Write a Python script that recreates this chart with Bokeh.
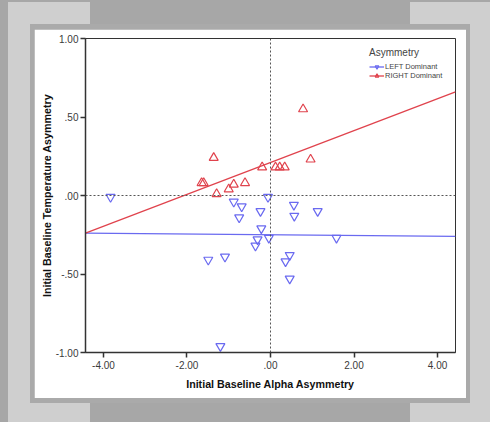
from bokeh.plotting import figure
from bokeh.models import Range1d, Span, Legend, LegendItem, FixedTicker
from bokeh.embed import file_html
from bokeh.resources import INLINE

# ---- data ----
left_x = [-3.83, -0.88, -0.69, -0.24, -0.06, -0.75, -0.22, -0.31, -0.36, -0.04,
          -1.49, -1.09, 0.56, 1.13, 0.57, 1.58, 0.46, 0.36, 0.46, -1.20]
left_y = [-0.01, -0.04, -0.07, -0.10, -0.01, -0.14, -0.21, -0.28, -0.32, -0.27,
          -0.41, -0.39, -0.06, -0.10, -0.13, -0.27, -0.38, -0.42, -0.53, -0.96]
right_x = [0.78, -1.36, 0.96, -0.20, 0.12, 0.22, 0.34, -1.65, -1.60, -1.29,
           -1.00, -0.88, -0.61]
right_y = [0.55, 0.24, 0.23, 0.18, 0.18, 0.18, 0.18, 0.08, 0.08, 0.01,
           0.04, 0.07, 0.08]

# fit lines: intercept, slope
left_fit = (-0.25, -0.0023)
right_fit = (0.21, 0.1016)

x_limits = [-4.43, 4.43]
y_limits = [-1.0, 1.0]
x_ticks = [-4, -2, 0, 2, 4]
x_tick_labels = ["-4.00", "-2.00", ".00", "2.00", "4.00"]
y_ticks = [-1, -0.5, 0, 0.5, 1]
y_tick_labels = ["-1.00", "-.50", ".00", ".50", "1.00"]

RED = "#e0434d"
BLUE = "#6a6af0"
FONT = "Liberation Sans"

p = figure(width=432, height=369, output_backend="svg", toolbar_location=None,
           x_range=Range1d(*x_limits), y_range=Range1d(*y_limits),
           frame_width=370, frame_height=314,
           min_border_left=51, min_border_right=11, min_border_top=9,
           min_border_bottom=46)
p.margin = (29, 0, 0, 34)
p.border_fill_color = "white"
p.background_fill_color = "white"
p.outline_line_color = "#333333"
p.outline_line_width = 1
p.grid.visible = False

# reference lines
p.add_layout(Span(location=0, dimension="height", line_color="#555555",
                  line_dash="2 2", line_width=1))
p.add_layout(Span(location=0, dimension="width", line_color="#555555",
                  line_dash="2 2", line_width=1))

# fit lines
lfx = list(x_limits)
lfy = [left_fit[0] + left_fit[1] * v for v in lfx]
rfy = [right_fit[0] + right_fit[1] * v for v in lfx]
bl = p.line(lfx, lfy, line_color=BLUE, line_width=1.3)
rl = p.line(lfx, rfy, line_color=RED, line_width=1.3)

bs = p.scatter(left_x, left_y, marker="inverted_triangle", size=9,
               fill_color=None, line_color=BLUE, line_width=1.2)
rs = p.scatter(right_x, right_y, marker="triangle", size=9,
               fill_color=None, line_color=RED, line_width=1.2)

# axes
for ax in (p.xaxis[0], p.yaxis[0]):
    ax.major_tick_in = 0
    ax.major_tick_out = 5
    ax.minor_tick_line_color = None
    ax.axis_line_color = "#333333"
    ax.axis_line_width = 1.5
    ax.major_tick_line_color = "#333333"
    ax.major_tick_line_width = 1.5
    ax.major_label_text_font = FONT
    ax.major_label_text_font_size = "10px"
    ax.major_label_text_color = "#3a3a3a"
    ax.axis_label_text_font = FONT
    ax.axis_label_text_font_size = "10.7px"
    ax.axis_label_text_font_style = "bold"
    ax.axis_label_text_color = "#111111"

p.xaxis.ticker = FixedTicker(ticks=x_ticks)
p.yaxis.ticker = FixedTicker(ticks=y_ticks)
p.xaxis.major_label_overrides = dict(zip(x_ticks, x_tick_labels))
p.yaxis.major_label_overrides = dict(zip(y_ticks, y_tick_labels))
p.xaxis.axis_label = "Initial Baseline Alpha Asymmetry"
p.yaxis.axis_label = "Initial Baseline Temperature Asymmetry"
p.xaxis.major_label_standoff = 3
p.xaxis.axis_label_standoff = 6
p.yaxis.major_label_standoff = 2
p.yaxis.axis_label_standoff = 0

legend = Legend(items=[LegendItem(label="LEFT Dominant", renderers=[bl, bs]),
                       LegendItem(label="RIGHT Dominant", renderers=[rl, rs])],
                title="Asymmetry", location=(281, 269))
legend.title_text_font = FONT
legend.title_text_font_size = "10px"
legend.title_text_font_style = "normal"
legend.title_standoff = 4
legend.label_text_font = FONT
legend.label_text_font_size = "7.5px"
legend.glyph_width = 15
legend.glyph_height = 9
legend.label_height = 9
legend.label_standoff = 1
legend.spacing = 0
legend.padding = 3
legend.margin = 0
legend.background_fill_alpha = 0
legend.border_line_alpha = 0
p.add_layout(legend)

LIGHT = "#cfcfcf"
RING = "#aaaaaa"
css = (
    "<style>html,body{margin:0;padding:0;}"
    "body{min-height:422px;background:"
    f"linear-gradient({LIGHT},{LIGHT}) 8px 2px/82px 22px no-repeat,"
    f"linear-gradient({LIGHT},{LIGHT}) 8px 2px/22px 420px no-repeat,"
    f"linear-gradient({LIGHT},{LIGHT}) 8px 403px/82px 19px no-repeat,"
    f"linear-gradient({LIGHT},{LIGHT}) 410px 2px/80px 22px no-repeat,"
    f"linear-gradient({LIGHT},{LIGHT}) 470px 2px/20px 420px no-repeat,"
    f"linear-gradient({LIGHT},{LIGHT}) 410px 403px/80px 19px no-repeat,"
    f"linear-gradient({RING},{RING}) 30px 24px/440px 379px no-repeat,"
    "#a7a7a7;}</style>"
)

html = file_html(p, INLINE)
html = html.replace("<head>", "<head>" + css, 1)
open("out.html", "w").write(html)
